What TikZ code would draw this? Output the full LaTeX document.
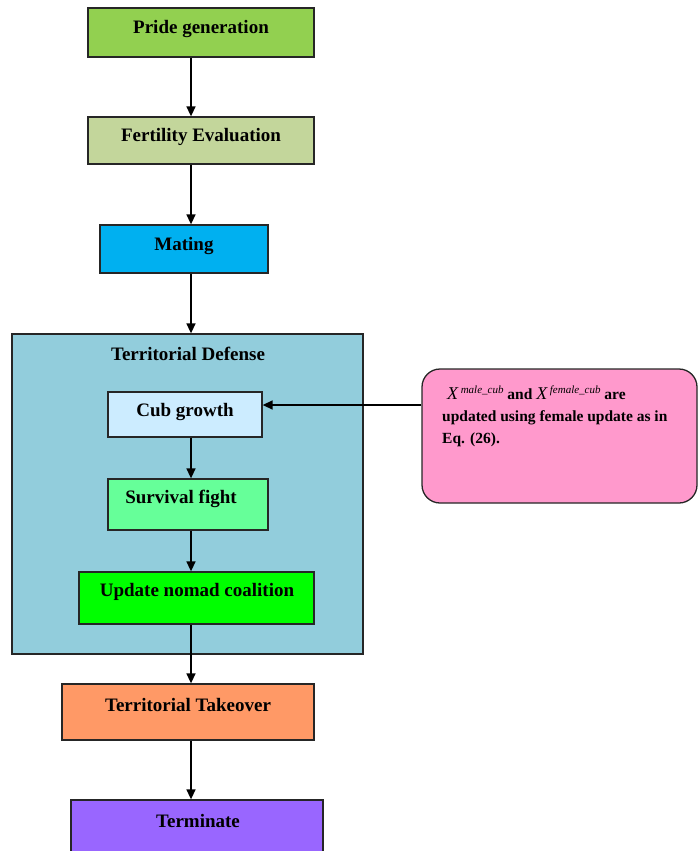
\documentclass[tikz,border=0pt]{standalone}
\usepackage{fontspec}
\setmainfont{Liberation Serif}
\usetikzlibrary{arrows.meta}
\definecolor{cPride}{HTML}{92D050}
\definecolor{cFert}{HTML}{C3D69B}
\definecolor{cMate}{HTML}{00B0F0}
\definecolor{cDef}{HTML}{92CDDC}
\definecolor{cCub}{HTML}{CCECFF}
\definecolor{cSurv}{HTML}{66FF99}
\definecolor{cUpd}{HTML}{00FF00}
\definecolor{cTake}{HTML}{FF9966}
\definecolor{cTerm}{HTML}{9966FF}
\definecolor{cPink}{HTML}{FF99CC}
\newcommand\mX[1]{{\fontsize{18}{22}\selectfont\mdseries\itshape X}\,\raisebox{6pt}{\fontsize{11}{12}\selectfont\mdseries\itshape #1}}
\begin{document}
\begin{tikzpicture}[x=1pt,y=-1pt,
  box/.style={draw=black!85,line width=1.3pt,inner sep=0pt,rectangle},
  txt/.style={inner sep=0pt,font=\fontsize{19}{22}\selectfont\bfseries},
  arr/.style={line width=1.5pt,-{Triangle[length=10pt,width=9pt]}}]
\clip (0,0) rectangle (698,851);
\coordinate (ax) at (191,0);
\coordinate (ay) at (0,405);
% boxes
\node[box,fill=cPride,minimum width=226pt,minimum height=49pt] (pg) at (201,32.5) {};
\node[box,fill=cFert,minimum width=226pt,minimum height=47pt] (fe) at (201,140.5) {};
\node[box,fill=cMate,minimum width=168pt,minimum height=48pt] (ma) at (184,249) {};
\node[box,fill=cDef,minimum width=351pt,minimum height=320pt] (td) at (187.5,494) {};
\node[box,fill=cCub,minimum width=154pt,minimum height=45pt] (cg) at (185,414.5) {};
\node[box,fill=cSurv,minimum width=160pt,minimum height=51pt] (sf) at (188,504.5) {};
\node[box,fill=cUpd,minimum width=235pt,minimum height=52pt] (un) at (196.5,598) {};
\node[box,fill=cTake,minimum width=252pt,minimum height=56pt] (tt) at (188,712) {};
\node[box,fill=cTerm,minimum width=252pt,minimum height=70pt] (te) at (197,835) {};
\node[box,fill=cPink,rounded corners=18pt,minimum width=275pt,minimum height=134pt] (note) at (559.5,436) {};
% texts
\node[txt] at (201,29) {Pride generation};
\node[txt] at (201,137) {Fertility Evaluation};
\node[txt] at (184,246) {Mating};
\node[txt] at (188,354) {Territorial Defense};
\node[txt] at (185,412) {Cub growth};
\node[txt] at (181,499) {Survival fight};
\node[txt] at (197,592) {Update nomad coalition};
\node[txt] at (188,705) {Territorial Takeover};
\node[txt] at (198,821) {Terminate};
\node[anchor=north west,align=left,inner sep=0pt,font=\fontsize{15.5}{22}\selectfont\bfseries] (nt) at (442,386)
  {\hspace{5pt}\mX{male\_cub} and \mX{female\_cub} are\\updated using female update as in\\Eq. (26).};
% connectors
\draw[arr] (pg.south -| ax) -- (fe.north -| ax);
\draw[arr] (fe.south -| ax) -- (ma.north -| ax);
\draw[arr] (ma.south -| ax) -- (td.north -| ax);
\draw[arr] (cg.south -| ax) -- (sf.north -| ax);
\draw[arr] (sf.south -| ax) -- (un.north -| ax);
\draw[arr] (un.south -| ax) -- (tt.north -| ax);
\draw[arr] (tt.south -| ax) -- (te.north -| ax);
\draw[arr] (note.west |- ay) -- (cg.east |- ay);
\end{tikzpicture}
\end{document}
